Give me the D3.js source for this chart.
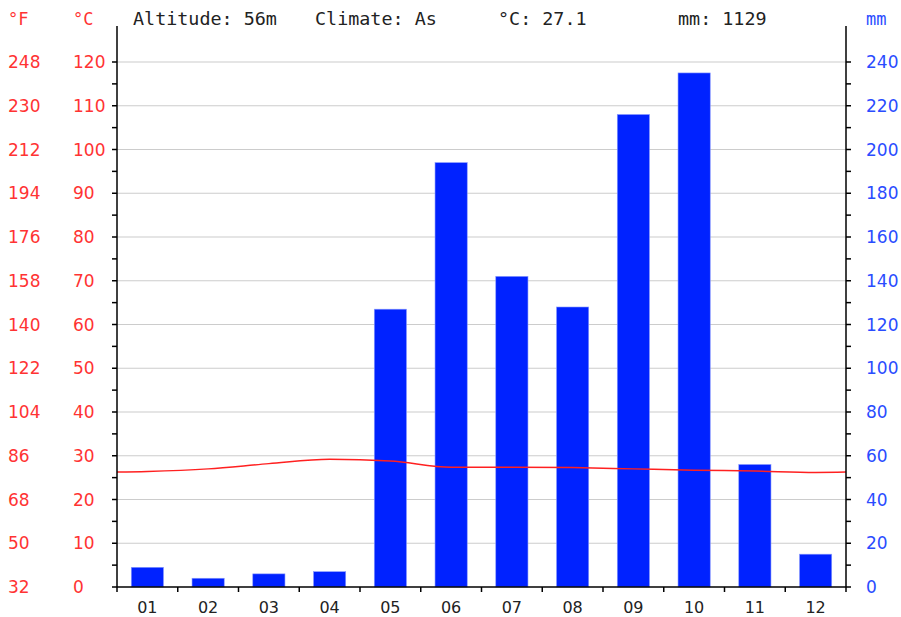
<!DOCTYPE html>
<html lang="en">
<head>
    <meta charset="UTF-8">
    <title>Climate chart</title>
    <style>
        body { margin: 0; background: #ffffff; }
        svg { display: block; }
    </style>
    <script src="https://d3js.org/d3.v7.min.js"></script>
</head>
<body>
    <svg width="901" height="617"></svg>
    <script>
        const months = ["01", "02", "03", "04", "05", "06", "07", "08", "09", "10", "11", "12"];
        const precip = [9, 4, 6, 7, 127, 194, 142, 128, 216, 235, 56, 15];
        const temps = [26.4, 27.0, 28.2, 29.2, 28.8, 27.4, 27.4, 27.3, 27.0, 26.7, 26.5, 26.2];
        const celsiusTicks = [0, 10, 20, 30, 40, 50, 60, 70, 80, 90, 100, 110, 120];
        const mmTicks = [0, 20, 40, 60, 80, 100, 120, 140, 160, 180, 200, 220, 240];
        const header = [
            { text: "Altitude: 56m", x: 133 },
            { text: "Climate: As", x: 315 },
            { text: "°C: 27.1", x: 498 },
            { text: "mm: 1129", x: 678 }
        ];

        const svg = d3.select("svg");
        const plotLeft = 117, plotRight = 846, plotTop = 62, plotBottom = 587;
        const red = "#ff3333", blue = "#2a4cff";
        const mono = "'DejaVu Sans Mono', monospace";
        const sans = "'DejaVu Sans', sans-serif";

        const x = d3.scaleBand().domain(months).range([plotLeft, plotRight]).paddingInner(0.47).paddingOuter(0.235);
        const xb = d3.scaleBand().domain(months).range([plotLeft, plotRight]);
        const yC = d3.scaleLinear().domain([0, 120]).range([plotBottom, plotTop]);
        const yMM = d3.scaleLinear().domain([0, 240]).range([plotBottom, plotTop]);

        // grid
        svg.append("g").selectAll("line").data(celsiusTicks.slice(1)).join("line")
            .attr("x1", plotLeft).attr("x2", plotRight)
            .attr("y1", d => yC(d)).attr("y2", d => yC(d))
            .attr("stroke", "#cccccc").attr("stroke-width", 1.2);

        // bars
        svg.append("g").selectAll("rect").data(precip).join("rect")
            .attr("x", (d, i) => x(months[i]))
            .attr("width", x.bandwidth())
            .attr("y", d => yMM(d))
            .attr("height", d => plotBottom - yMM(d))
            .attr("fill", "#0022ff")
            .attr("stroke", "#8899ff").attr("stroke-width", 0.6);

        // temperature line, wrapped round the year so it reaches both edges
        const step = xb.bandwidth();
        const pts = [[xb(months[0]) - step / 2, temps[11]]]
            .concat(temps.map((t, i) => [xb(months[i]) + step / 2, t]))
            .concat([[xb(months[11]) + step * 1.5, temps[0]]]);
        svg.append("clipPath").attr("id", "plot").append("rect")
            .attr("x", plotLeft).attr("y", 0).attr("width", plotRight - plotLeft).attr("height", plotBottom);
        svg.append("path")
            .datum(pts)
            .attr("clip-path", "url(#plot)")
            .attr("fill", "none")
            .attr("stroke", "#ff2020")
            .attr("stroke-width", 1.5)
            .attr("d", d3.line().x(d => d[0]).y(d => yC(d[1])).curve(d3.curveMonotoneX));

        // side axes with minor ticks
        svg.append("line").attr("x1", plotLeft).attr("x2", plotLeft).attr("y1", 26).attr("y2", plotBottom)
            .attr("stroke", "#000").attr("stroke-width", 1.5);
        svg.append("line").attr("x1", plotRight).attr("x2", plotRight).attr("y1", 26).attr("y2", plotBottom)
            .attr("stroke", "#000").attr("stroke-width", 1.5);
        const minor = d3.range(0, 121, 5);
        svg.append("g").selectAll("line").data(minor).join("line")
            .attr("x1", plotLeft - 5).attr("x2", plotLeft)
            .attr("y1", d => yC(d)).attr("y2", d => yC(d))
            .attr("stroke", "#000").attr("stroke-width", 1.5);
        svg.append("g").selectAll("line").data(minor).join("line")
            .attr("x1", plotRight).attr("x2", plotRight + 5)
            .attr("y1", d => yC(d)).attr("y2", d => yC(d))
            .attr("stroke", "#000").attr("stroke-width", 1.5);

        // bottom axis
        svg.append("line").attr("x1", plotLeft).attr("x2", plotRight).attr("y1", plotBottom).attr("y2", plotBottom)
            .attr("stroke", "#000").attr("stroke-width", 1.5);
        svg.append("g").selectAll("line").data(months.concat(["end"])).join("line")
            .attr("x1", (d, i) => plotLeft + i * step).attr("x2", (d, i) => plotLeft + i * step)
            .attr("y1", plotBottom).attr("y2", plotBottom + 5)
            .attr("stroke", "#000").attr("stroke-width", 1.5);
        svg.append("g").selectAll("text").data(months).join("text")
            .attr("x", d => xb(d) + step / 2).attr("y", 613)
            .attr("text-anchor", "middle")
            .attr("font-family", sans).attr("font-size", 16).attr("fill", "#222")
            .text(d => d);

        // tick labels
        svg.append("g").selectAll("text").data(celsiusTicks).join("text")
            .attr("x", 73).attr("y", d => yC(d) + 6.2)
            .attr("font-family", sans).attr("font-size", 17).attr("fill", red)
            .text(d => d);
        svg.append("g").selectAll("text").data(celsiusTicks).join("text")
            .attr("x", 8).attr("y", d => yC(d) + 6.2)
            .attr("font-family", sans).attr("font-size", 17).attr("fill", red)
            .text(d => Math.round(d * 9 / 5 + 32));
        svg.append("g").selectAll("text").data(mmTicks).join("text")
            .attr("x", 866).attr("y", d => yMM(d) + 6.2)
            .attr("font-family", sans).attr("font-size", 17).attr("fill", blue)
            .text(d => d);

        // unit headers
        svg.append("text").attr("x", 8).attr("y", 25).attr("font-family", mono).attr("font-size", 17)
            .attr("fill", red).text("°F");
        svg.append("text").attr("x", 73).attr("y", 25).attr("font-family", mono).attr("font-size", 17)
            .attr("fill", red).text("°C");
        svg.append("text").attr("x", 866).attr("y", 25).attr("font-family", mono).attr("font-size", 17)
            .attr("fill", blue).text("mm");

        svg.append("g").selectAll("text").data(header).join("text")
            .attr("x", d => d.x).attr("y", 25)
            .attr("font-family", mono).attr("font-size", 18.4).attr("fill", "#222")
            .text(d => d.text);
    </script>
</body>
</html>
